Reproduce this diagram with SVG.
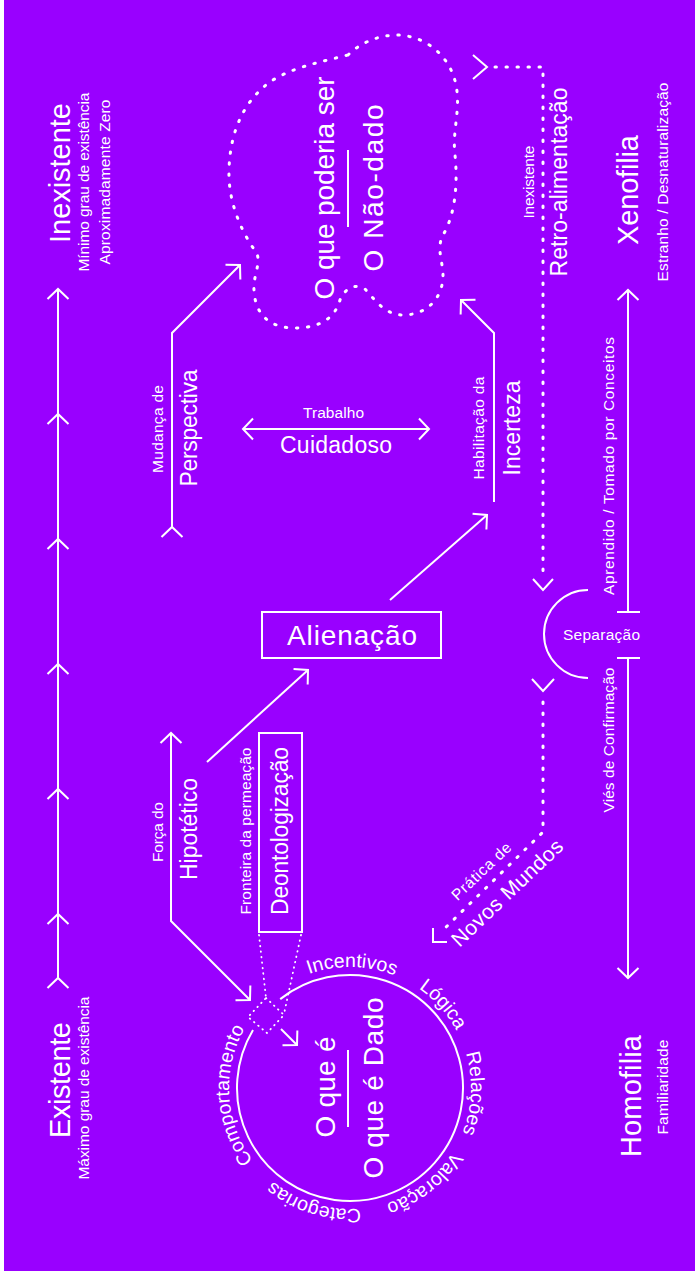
<svg xmlns="http://www.w3.org/2000/svg" width="695" height="1271" viewBox="0 0 695 1271">
<defs>
<style>
.bg{fill:#9900ff}
.t{fill:#fff;font-family:"Liberation Sans",Arial,sans-serif}
.big{font-size:29px}
.hg{font-size:28px}
.md{font-size:23px}
.sm{font-size:15.5px}
.cl{font-size:19.5px}
.ln{fill:none;stroke:#fff;stroke-width:2}
.dot{fill:none;stroke:#fff;stroke-width:3;stroke-linecap:round;stroke-dasharray:1.4 9.6}
.fdot{fill:none;stroke:#fff;stroke-width:1.8;stroke-linecap:round;stroke-dasharray:0.5 5}
.mk{fill:none;stroke:#fff;stroke-width:2}
</style>
<marker id="ah" viewBox="-14 -14 16 28" refX="0" refY="0" markerWidth="16" markerHeight="28" markerUnits="userSpaceOnUse" orient="auto" overflow="visible"><path class="mk" d="M-10,-10.5 L0,0 L-10,10.5"/></marker>
<marker id="ahr" viewBox="-14 -14 16 28" refX="0" refY="0" markerWidth="16" markerHeight="28" markerUnits="userSpaceOnUse" orient="auto-start-reverse" overflow="visible"><path class="mk" d="M-10,-10.5 L0,0 L-10,10.5"/></marker>
<path id="ring" d="M264.44,1002.44 A121,121 0 1 1 435.56,1173.56 A121,121 0 1 1 264.44,1002.44"/>
</defs>
<rect x="0" y="0" width="695" height="1271" fill="#fff"/>
<rect class="bg" x="4" y="0" width="691" height="1271"/>

<g id="connectors">
<path class="ln" d="M58,978 L58,914 L58,789 L58,664 L58,539 L58,414 L58,289" marker-start="url(#ah)" marker-mid="url(#ah)" marker-end="url(#ah)"/>
<path class="ln" d="M628,612 V290" marker-end="url(#ah)"/>
<path class="ln" d="M617,612 H640"/>
<path class="ln" d="M628,658 V978" marker-end="url(#ah)"/>
<path class="ln" d="M617,658 H640"/>
<path class="ln" d="M172,527 V333 L240,265" marker-start="url(#ah)" marker-end="url(#ah)"/>
<path class="ln" d="M243,429 H429" marker-start="url(#ahr)" marker-end="url(#ah)"/>
<path class="ln" d="M494,502 V333 L461,300" marker-end="url(#ah)"/>
<path class="ln" d="M390,600 L487,515" marker-end="url(#ah)"/>
<path class="ln" d="M207,762 L308,670" marker-end="url(#ah)"/>
<path class="ln" d="M171,733 V921 L250,1000" marker-start="url(#ahr)" marker-end="url(#ah)"/>
<path class="ln" d="M281,1029 L297,1045" marker-end="url(#ah)"/>
<path class="dot" d="M495,67 H543 V578"/>
<path class="ln" d="M473,55 L487,67 L473,79"/>
<path class="ln" d="M533,579 L543,590 L553,579"/>
<path class="ln" d="M532,679 L543,691 L554,679"/>
<path class="dot" d="M543,702 V832 L440,933"/>
<path class="ln" d="M433,928 V942 H447"/>
<path class="fdot" d="M259,935 L266,998"/>
<path class="fdot" d="M301,935 L284,1014"/>
<path class="fdot" d="M266,998 L284,1015 L267,1033 L248,1017 Z"/>
</g>

<g id="node-inexistente">
<text class="t big" text-anchor="middle" transform="translate(70,173) rotate(-90)" textLength="140">Inexistente</text>
<text class="t sm" text-anchor="middle" transform="translate(89,182) rotate(-90)" textLength="179">Mínimo grau de existência</text>
<text class="t sm" text-anchor="middle" transform="translate(110,182) rotate(-90)" textLength="165">Aproximadamente Zero</text>
</g>

<g id="node-existente">
<text class="t big" text-anchor="middle" transform="translate(70,1080) rotate(-90)" textLength="116">Existente</text>
<text class="t sm" text-anchor="middle" transform="translate(89,1088) rotate(-90)" textLength="183">Máximo grau de existência</text>
</g>

<g id="node-xenofilia">
<text class="t big" text-anchor="middle" transform="translate(638,190) rotate(-90)" textLength="110">Xenofilia</text>
<text class="t sm" text-anchor="middle" transform="translate(668,182) rotate(-90)" textLength="199">Estranho / Desnaturalização</text>
</g>

<g id="node-homofilia">
<text class="t big" text-anchor="middle" transform="translate(641,1096) rotate(-90)" textLength="122">Homofilia</text>
<text class="t sm" text-anchor="middle" transform="translate(668,1087) rotate(-90)" textLength="95">Familiaridade</text>
</g>

<g id="label-xenofilia-axis">
<text class="t sm" text-anchor="middle" transform="translate(614,466) rotate(-90)" textLength="258">Aprendido / Tomado por Conceitos</text>
</g>
<g id="label-homofilia-axis">
<text class="t sm" text-anchor="middle" transform="translate(614,740) rotate(-90)" textLength="145">Viés de Confirmação</text>
</g>

<g id="node-separacao">
<path class="ln" d="M588,590 A44,44 0 0 0 588,678"/>
<text class="t sm" text-anchor="middle" x="601.5" y="640" textLength="77">Separação</text>
</g>

<g id="label-retro">
<text class="t sm" text-anchor="middle" transform="translate(534,182) rotate(-90)" textLength="73">Inexistente</text>
<text class="t md" text-anchor="middle" transform="translate(566.5,182) rotate(-90)" textLength="189">Retro-alimentação</text>
</g>

<g id="node-nao-dado">
<path class="dot" d="M348,55 C360,43 378,35 398,35 C425,36 450,55 456,85 C461,110 452,130 455,155 C458,185 455,215 443,235 C436,248 443,262 443,275 C443,300 425,315 403,315 C385,315 375,300 365,289 C355,283 345,288 340,300 C335,318 320,328 295,328 C270,328 255,315 254,290 C253,275 262,262 256,252 C240,230 228,200 229,170 C230,130 245,100 270,82 C290,68 320,62 348,55 Z"/>
<text class="t hg" text-anchor="middle" transform="translate(334,188) rotate(-90)" textLength="223">O que poderia ser</text>
<path class="ln" d="M348,150 V227"/>
<text class="t hg" text-anchor="middle" transform="translate(383,188) rotate(-90)" textLength="167">O Não-dado</text>
</g>

<g id="label-perspectiva">
<text class="t sm" text-anchor="middle" transform="translate(163,429) rotate(-90)" textLength="88">Mudança de</text>
<text class="t md" text-anchor="middle" transform="translate(196.5,428) rotate(-90)" textLength="117">Perspectiva</text>
</g>

<g id="label-trabalho">
<text class="t sm" text-anchor="middle" x="333.5" y="418" textLength="61">Trabalho</text>
<text class="t md" text-anchor="middle" x="336" y="453" textLength="112">Cuidadoso</text>
</g>

<g id="label-incerteza">
<text class="t sm" text-anchor="middle" transform="translate(484,428) rotate(-90)" textLength="103">Habilitação da</text>
<text class="t md" text-anchor="middle" transform="translate(520,428) rotate(-90)" textLength="95">Incerteza</text>
</g>

<g id="node-alienacao">
<rect class="ln" x="262" y="612" width="179" height="46"/>
<text class="t hg" text-anchor="middle" x="352" y="645" textLength="130">Alienação</text>
</g>

<g id="label-hipotetico">
<text class="t sm" text-anchor="middle" transform="translate(163,832) rotate(-90)" textLength="60">Força do</text>
<text class="t md" text-anchor="middle" transform="translate(196.5,829) rotate(-90)" textLength="102">Hipotético</text>
</g>

<g id="node-deontologizacao">
<text class="t sm" text-anchor="middle" transform="translate(251,831) rotate(-90)" textLength="167">Fronteira da permeação</text>
<rect class="ln" x="259" y="733" width="43" height="199"/>
<text class="t md" text-anchor="middle" transform="translate(288,831) rotate(-90)" textLength="168">Deontologização</text>
</g>

<g id="label-novos-mundos">
<text class="t sm" text-anchor="middle" transform="translate(485,875) rotate(-43.5)" textLength="76">Prática de</text>
<text class="t" style="font-size:21px" text-anchor="middle" transform="translate(512,898) rotate(-43.5)" textLength="145">Novos Mundos</text>
</g>

<g id="node-dado">
<path class="ln" d="M280.2,999.1 A113,113 0 1 1 253.0,1030.0"/>
<text class="t hg" text-anchor="middle" transform="translate(335,1087) rotate(-90)" textLength="101">O que é</text>
<path class="ln" d="M348,1050 V1127"/>
<text class="t hg" text-anchor="middle" transform="translate(383,1088) rotate(-90)" textLength="181">O que é Dado</text>
<text class="t cl" text-anchor="middle"><textPath href="#ring" startOffset="97.1">Incentivos</textPath></text>
<text class="t cl" text-anchor="middle"><textPath href="#ring" startOffset="196.4">Lógica</textPath></text>
<text class="t cl" text-anchor="middle"><textPath href="#ring" startOffset="290.2">Relações</textPath></text>
<text class="t cl" text-anchor="middle"><textPath href="#ring" startOffset="394.9">Valoração</textPath></text>
<text class="t cl" text-anchor="middle"><textPath href="#ring" startOffset="511.1">Categorias</textPath></text>
<text class="t cl" text-anchor="middle"><textPath href="#ring" startOffset="656.8">Comportamento</textPath></text>
</g>
</svg>
